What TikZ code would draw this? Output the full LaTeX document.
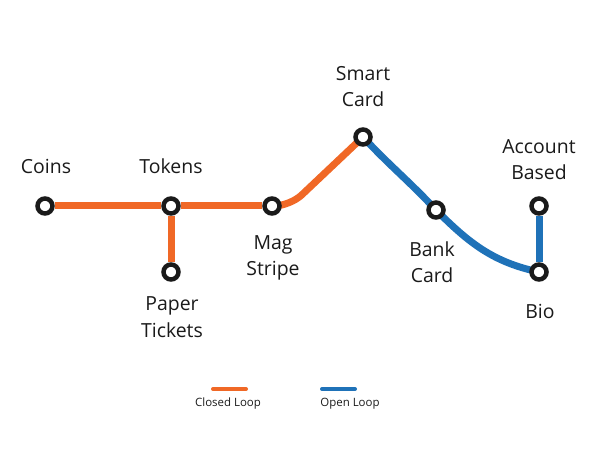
\documentclass[tikz,border=0pt]{standalone}
\usepackage{fontspec}
\setmainfont{Open Sans}
\usetikzlibrary{positioning,backgrounds}

\definecolor{closedorange}{RGB}{240,104,38}
\definecolor{openblue}{RGB}{31,114,184}
\definecolor{stopblack}{RGB}{26,26,26}

\tikzset{
  stop/.style={circle, draw=stopblack, line width=4.5bp, fill=white, minimum size=15bp, inner sep=0pt},
  stoplabel/.style={align=center, font=\fontsize{19.5}{27}\selectfont, text=stopblack, inner sep=0pt},
  closedline/.style={closedorange, line width=7bp},
  openline/.style={openblue, line width=7bp},
  legendtext/.style={font=\fontsize{11.5}{13}\selectfont, text=stopblack, inner sep=0pt}
}

\begin{document}
\begin{tikzpicture}[x=1bp, y=-1bp]
				\useasboundingbox (0,0) rectangle (597,466);
				% stations
				\node[stop] (coins) at (45,206) {};
				\node[stop] (tokens) at (171,206) {};
				\node[stop] (paper) at (171,272) {};
				\node[stop] (mag) at (272,206) {};
				\node[stop] (smart) at (363,137) {};
				\node[stop] (bank) at (436,210) {};
				\node[stop] (bio) at (539,272) {};
				\node[stop] (account) at (539,206) {};
				\coordinate (bend) at (290,206);
				% lines
				\begin{scope}[on background layer]
				\draw[closedline] (coins) -- (tokens) -- (mag);
				\draw[closedline] (tokens) -- (paper);
				\draw[closedline, rounded corners=16bp] (mag.center) -- (bend) -- (smart.center);
				\draw[openline] (smart.center) to[out=-47, in=133] (bank.center);
				\draw[openline] (bank.center) to[out=-45, in=168] (bio.center);
				\draw[openline] (bio) -- (account);
				\end{scope}
				% labels
				\node[stoplabel, anchor=base] (coinslbl) at (46,174) {Coins};
				\node[stoplabel, anchor=base] (tokenslbl) at (171,174) {Tokens};
				\node[stoplabel, anchor=base] (paperlbl) at (172,337) {Paper\\Tickets};
				\node[stoplabel, anchor=base] (maglbl) at (273,276) {Mag\\Stripe};
				\node[stoplabel, anchor=base] (smartlbl) at (363,107) {Smart\\Card};
				\node[stoplabel, anchor=base] (accountlbl) at (539,180) {Account\\Based};
				\node[stoplabel, anchor=base] (banklbl) at (432,283) {Bank\\Card};
				\node[stoplabel, anchor=base] (biolbl) at (540,318) {Bio};
				% legend
				\coordinate (closedA) at (213,389);
				\coordinate (closedB) at (246,389);
				\coordinate (openA) at (322,389);
				\coordinate (openB) at (355,389);
				\draw[closedorange, line width=4bp, line cap=round] (closedA) -- (closedB);
				\draw[openblue, line width=4bp, line cap=round] (openA) -- (openB);
				\node[legendtext] (closedlbl) at (228,404) {Closed Loop};
				\node[legendtext] (openlbl) at (350,404) {Open Loop};
			\end{tikzpicture}
\end{document}
